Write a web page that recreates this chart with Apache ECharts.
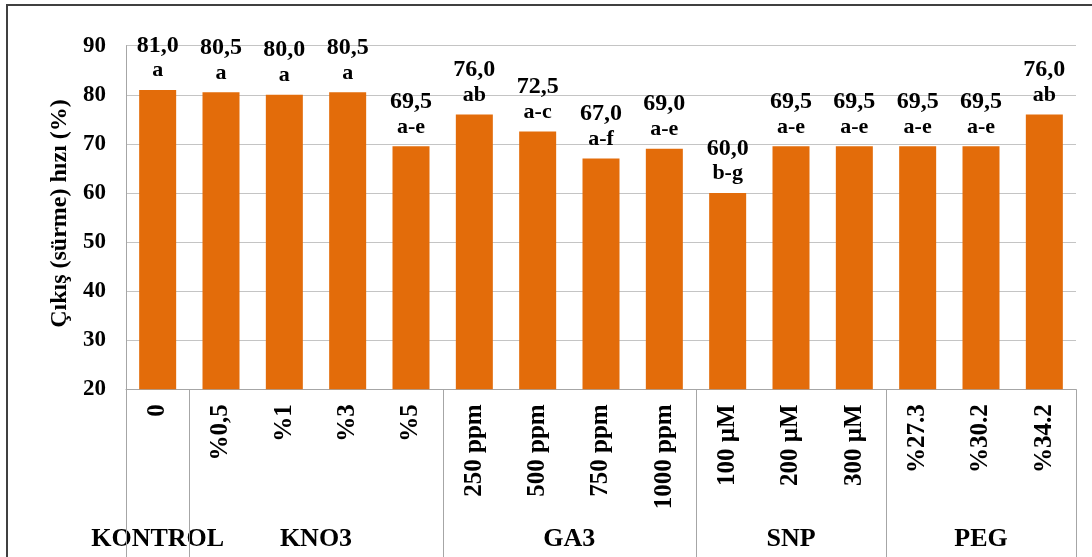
<!DOCTYPE html>
<html>
<head>
<meta charset="utf-8">
<script src="https://cdn.jsdelivr.net/npm/echarts@6/dist/echarts.min.js"></script>
<style>
  html, body { margin: 0; padding: 0; background: #ffffff; }
  #chart { width: 1092px; height: 557px; }
</style>
</head>
<body>
<div id="chart"></div>
<script>
// Treatments (x categories) and their emergence rates (%)
const categories = ['0', '%0,5', '%1', '%3', '%5', '250 ppm', '500 ppm', '750 ppm', '1000 ppm',
  '100 µM', '200 µM', '300 µM', '%27.3', '%30.2', '%34.2'];
const rates = [81.0, 80.5, 80.0, 80.5, 69.5, 76.0, 72.5, 67.0, 69.0, 60.0, 69.5, 69.5, 69.5, 69.5, 76.0];
const letters = ['a', 'a', 'a', 'a', 'a-e', 'ab', 'a-c', 'a-f', 'a-e', 'b-g', 'a-e', 'a-e', 'a-e', 'a-e', 'ab'];

// Treatment groups shown under the category labels
const groupNames = ['KONTROL', 'KNO3', 'GA3', 'SNP', 'PEG'];
const groupSizes = [1, 4, 4, 3, 3];

// Value axis ticks
const yMin = 20;
const yMax = 90;
const yStep = 10;

const yTitle = 'Çıkış (sürme) hızı (%)';

const FONT = "'Liberation Serif', 'Times New Roman', serif";
const BAR = '#e36c0a';
const GRID_LINE = '#c4c4c4';
const AXIS_LINE = '#a6a6a6';

const chart = echarts.init(document.getElementById('chart'), null, { renderer: 'canvas' });

const fmt = v => v.toFixed(1).replace('.', ',');

chart.setOption({
  animation: false,
  backgroundColor: '#ffffff',
  grid: { left: 126, right: 16, top: 45.7, bottom: 167.7, containLabel: false },
  xAxis: {
    type: 'category',
    data: categories,
    axisLine: { show: true, lineStyle: { color: AXIS_LINE, width: 1 } },
    axisTick: { show: false },
    axisLabel: {
      rotate: 90,
      margin: 15,
      interval: 0,
      color: '#000',
      fontFamily: FONT,
      fontWeight: 'bold',
      fontSize: 25
    }
  },
  yAxis: {
    type: 'value',
    min: yMin,
    max: yMax,
    interval: yStep,
    name: yTitle,
    nameLocation: 'middle',
    nameGap: 43,
    nameTextStyle: {
      color: '#000', fontFamily: FONT, fontWeight: 'bold', fontSize: 24,
      padding: [0, 0, 0, 8]
    },
    axisLine: { show: true, lineStyle: { color: AXIS_LINE, width: 1 } },
    axisTick: { show: false },
    axisLabel: { margin: 20, color: '#000', fontFamily: FONT, fontWeight: 'bold', fontSize: 23 },
    splitLine: { show: true, lineStyle: { color: GRID_LINE, width: 1 } }
  },
  series: [{
    type: 'bar',
    data: rates,
    barWidth: 37,
    itemStyle: { color: BAR },
    label: {
      show: true,
      position: 'top',
      distance: 7,
      formatter: p => '{v|' + fmt(p.value) + '}\n{l|' + letters[p.dataIndex] + '}',
      rich: {
        v: { fontFamily: FONT, fontWeight: 'bold', fontSize: 24, color: '#000', lineHeight: 25, align: 'center' },
        l: { fontFamily: FONT, fontWeight: 'bold', fontSize: 22, color: '#000', lineHeight: 25, align: 'center' }
      }
    }
  }]
});

// Group separators and group names, placed from the category axis scale
const c0 = chart.convertToPixel({ xAxisIndex: 0 }, 0);
const c1 = chart.convertToPixel({ xAxisIndex: 0 }, 1);
const band = c1 - c0;
const xStart = c0 - band / 2;
const axisY = chart.convertToPixel({ yAxisIndex: 0 }, yMin);

const graphics = [];
// outer frame
graphics.push({
  type: 'rect',
  shape: { x: 7, y: 5, width: 1200, height: 700 },
  style: { fill: 'none', stroke: '#404040', lineWidth: 2 },
  silent: true
});

let start = 0;
const boundaries = [0];
groupSizes.forEach((size, gi) => {
  const cx = xStart + (start + size / 2) * band;
  graphics.push({
    type: 'text',
    style: {
      text: groupNames[gi],
      x: cx,
      y: 539,
      align: 'center',
      verticalAlign: 'middle',
      fill: '#000',
      font: 'bold 26px ' + FONT
    },
    silent: true
  });
  start += size;
  boundaries.push(start);
});

boundaries.forEach(b => {
  const x = Math.round(xStart + b * band) + 0.5;
  graphics.push({
    type: 'line',
    shape: { x1: x, y1: axisY, x2: x, y2: 600 },
    style: { stroke: AXIS_LINE, lineWidth: 1 },
    silent: true
  });
});

chart.setOption({ graphic: graphics });
</script>
</body>
</html>
